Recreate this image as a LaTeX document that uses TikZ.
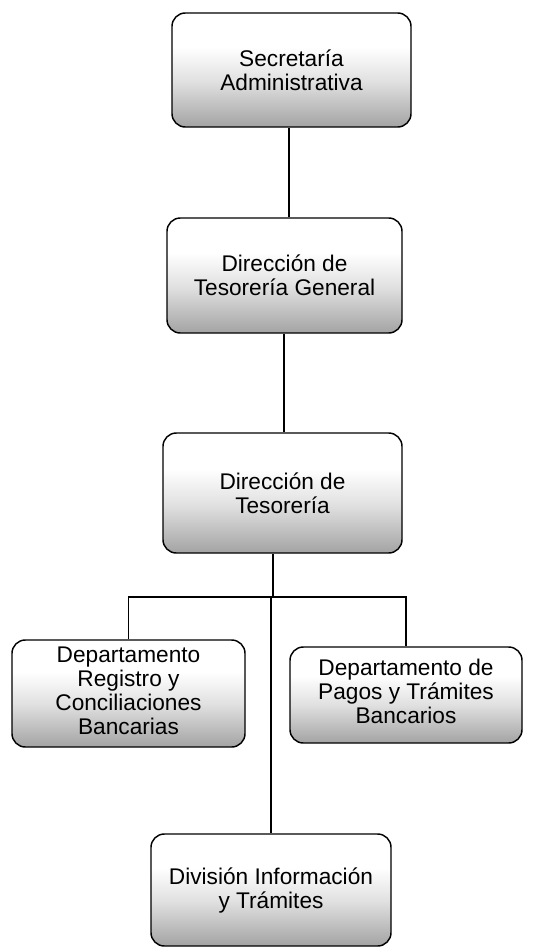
\documentclass[tikz,border=0pt]{standalone}
\usepackage{fontspec}
\setmainfont{Liberation Sans}
\pgfdeclareverticalshading{stip}{100bp}{color(0bp)=(black!45); color(25bp)=(black!36); color(45bp)=(black!12); color(60bp)=(white); color(100bp)=(white)}
\tikzset{
  orgbox/.style={draw, line width=1.1pt, rounded corners=10pt, shade, shading=stip,
    inner sep=0pt, align=center, font=\fontsize{17}{18}\selectfont},
  conn/.style={line width=0.8pt}
}
\begin{document}
\begin{tikzpicture}[x=0.75pt,y=-0.75pt]
\useasboundingbox (0,0) rectangle (535,949);
\node[orgbox, minimum width=179.25pt, minimum height=85.5pt] (B1) at (291.5,70) {Secretaría\\Administrativa};
\node[orgbox, minimum width=176.25pt, minimum height=86.25pt] (B2) at (284.5,275.5) {Dirección de\\Tesorería General};
\node[orgbox, minimum width=179.25pt, minimum height=90pt] (B3) at (282.5,493) {Dirección de\\Tesorería};
\node[orgbox, minimum width=174.75pt, minimum height=80.25pt] (L) at (128.5,693.5) {\raisebox{-3pt}{\begin{tabular}{@{}c@{}}Departamento\\Registro y\\Conciliaciones\\Bancarias\end{tabular}}};
\node[orgbox, minimum width=174pt, minimum height=72pt] (R) at (406,695) {\raisebox{-7pt}{\begin{tabular}{@{}c@{}}Departamento de\\Pagos y Trámites\\Bancarios\end{tabular}}};
\node[orgbox, minimum width=180pt, minimum height=84pt] (B4) at (271,890) {División Información\\y Trámites};
\coordinate (c12) at (289,0);
\coordinate (c23) at (284,0);
\coordinate (bus) at (273,597);
\draw[conn] (B1.south -| c12) -- (B2.north -| c12);
\draw[conn] (B2.south -| c23) -- (B3.north -| c23);
\draw[conn] (B3.south -| bus) -- (bus);
\draw[conn] (L.north) |- (bus) -| (R.north);
\draw[conn] (B4.north |- bus) -- (B4.north);
\end{tikzpicture}
\end{document}
